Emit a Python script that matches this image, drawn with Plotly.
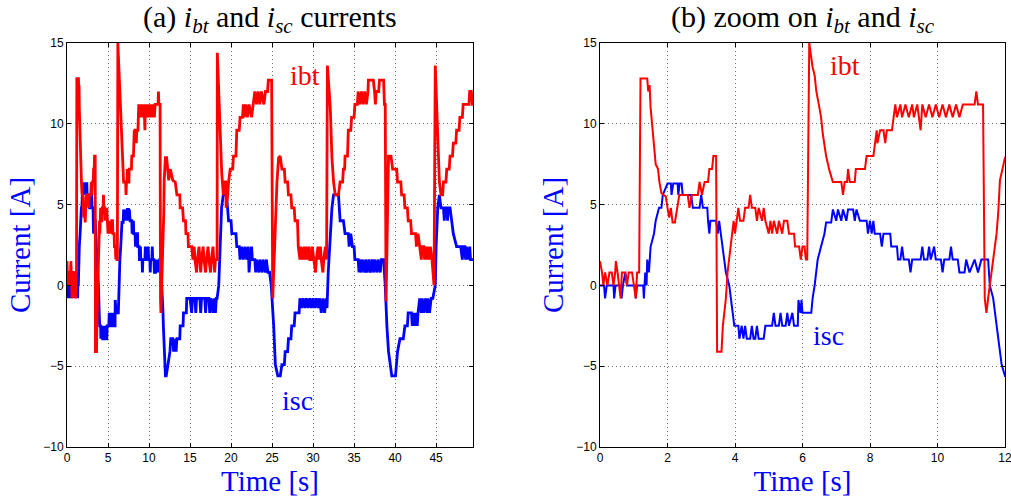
import plotly.graph_objects as go
from plotly.subplots import make_subplots

# ---------------- data (time [s], current [A]) ----------------
ibt_points = [
    (0, 1.5), (0.06, 0.8), (0.1, 0), (0.15, 0.8), (0.22, 0), (0.28, 0.8), (0.35, 0.8), (0.4, 0),
    (0.45, 0.8), (0.47, 1.5), (0.52, 0.8), (0.57, 0), (0.61, -0.8), (0.65, 0.8), (0.75, 0.8),
    (0.8, 0), (0.85, 0.8), (0.95, 0.8), (1.0, 0), (1.06, -0.8), (1.1, 0.8), (1.16, 0.8),
    (1.2, 12.8), (1.4, 12.8), (1.43, 12), (1.47, 12.4), (1.5, 11), (1.52, 10.5), (1.58, 9),
    (1.65, 7.5), (1.72, 7.2), (1.76, 6.4), (1.82, 5.7), (1.95, 5.5), (2.0, 4.8), (2.05, 4.2),
    (2.1, 4.8), (2.15, 3.9), (2.22, 3.9), (2.28, 4.8), (2.35, 5.6), (2.6, 5.6), (2.65, 4.8),
    (2.72, 5.6), (2.9, 5.6), (2.95, 6.4), (3.02, 5.6), (3.1, 6.4), (3.2, 6.4), (3.24, 7.2),
    (3.32, 7.2), (3.36, 8.0), (3.44, 8.0), (3.47, -4.1), (3.6, -4.1), (3.64, -2.5), (3.68, -1.7),
    (3.73, -0.8), (3.78, 0.8), (3.83, 1.6), (3.88, 2.4), (3.93, 3.2), (3.96, 4.0), (4.0, 3.2),
    (4.05, 4.0), (4.1, 4.8), (4.15, 4.0), (4.25, 4.0), (4.3, 4.8), (4.4, 4.8), (4.45, 5.6),
    (4.5, 4.8), (4.6, 4.8), (4.65, 4.0), (4.7, 4.8), (4.8, 4.0), (4.85, 4.8), (4.9, 4.0),
    (5.0, 3.2), (5.05, 4.0), (5.1, 3.2), (5.15, 4.0), (5.25, 3.2), (5.3, 4.0), (5.4, 3.2),
    (5.45, 4.0), (5.55, 4.0), (5.6, 3.2), (5.75, 3.2), (5.78, 2.4), (5.9, 2.4), (5.95, 1.6),
    (6.0, 2.4), (6.06, 2.4), (6.1, 1.6), (6.14, 1.6), (6.2, 15), (6.26, 14.2), (6.3, 13.5),
    (6.36, 13), (6.41, 12), (6.5, 11), (6.55, 10.4), (6.6, 9.4), (6.7, 8.0), (6.8, 7.1),
    (6.9, 6.4), (7.15, 6.4), (7.2, 5.6), (7.25, 6.4), (7.32, 6.4), (7.35, 7.2), (7.4, 6.4),
    (7.55, 6.4), (7.58, 7.2), (7.85, 7.2), (7.9, 8.0), (8.1, 8.0), (8.15, 8.8), (8.2, 9.6),
    (8.22, 8.8), (8.3, 9.6), (8.4, 9.6), (8.45, 8.8), (8.5, 9.6), (8.65, 9.6), (8.7, 10.4),
    (8.75, 11.2), (8.8, 10.4), (8.9, 11.2), (8.95, 10.4), (9.05, 11.2), (9.15, 10.4),
    (9.25, 11.2), (9.3, 10.4), (9.4, 11.2), (9.5, 9.6), (9.55, 11.2), (9.65, 10.4),
    (9.75, 11.2), (9.85, 10.4), (9.95, 11.2), (10.05, 10.4), (10.15, 11.2), (10.25, 10.4),
    (10.35, 11.2), (10.45, 10.4), (10.55, 11.2), (10.65, 10.4), (10.75, 11.2), (11.1, 11.2),
    (11.15, 12.0), (11.2, 11.2), (11.35, 11.2), (11.4, -0.8), (11.45, -1.7), (11.5, -0.8),
    (11.55, 0), (11.65, 1.6), (11.75, 3.2), (11.8, 4.5), (11.85, 6.5), (12.0, 7.9),
    (12.15, 7.9), (12.4, 6.5), (12.6, 7.2), (12.9, 6.5), (13.2, 6.4), (13.4, 5.6),
    (13.75, 5.6), (13.8, 4.8), (14.1, 4.8), (14.2, 4.0), (14.45, 4.0), (14.5, 3.2),
    (14.75, 3.2), (14.8, 2.4), (15.2, 2.4), (15.35, 1.6), (15.5, 2.4), (15.6, 1.6),
    (15.8, 0.8), (15.9, 1.6), (16.1, 2.4), (16.2, 1.6), (16.3, 0.8), (16.4, 1.6), (16.6, 2.4),
    (16.7, 1.6), (16.9, 0.8), (17.0, 1.6), (17.2, 2.4), (17.3, 1.6), (17.5, 0.8), (17.6, 1.6),
    (17.8, 2.4), (17.9, 1.6), (18.0, 0.8), (18.1, 1.6), (18.3, 1.6), (18.33, 14.4),
    (18.66, 9.6), (18.86, 7.0), (19.06, 5.6), (19.2, 6.4), (19.35, 6.4), (19.4, 4.8),
    (19.6, 5.6), (19.7, 6.4), (19.9, 7.2), (20.2, 7.2), (20.3, 8.0), (20.6, 8.0), (20.7, 9.6),
    (21.0, 9.6), (21.1, 10.4), (21.4, 10.4), (21.5, 11.2), (21.6, 10.4), (21.8, 11.2),
    (22.0, 10.4), (22.2, 11.2), (22.5, 10.4), (22.7, 11.2), (22.9, 12.0), (23.1, 11.2),
    (23.3, 12.0), (23.5, 11.2), (23.7, 12.0), (24.0, 11.2), (24.2, 12.0), (24.45, 12.0),
    (24.55, 12.7), (24.95, 12.7), (25.08, -0.8), (25.2, 0.8), (25.4, 4.0), (25.6, 6.4),
    (25.8, 7.9), (26.0, 8.0), (26.2, 7.2), (26.5, 7.2), (26.6, 6.4), (26.9, 6.4), (27.0, 5.6),
    (27.3, 5.6), (27.4, 4.8), (27.7, 4.8), (27.8, 4.0), (28.1, 4.0), (28.2, 2.4), (28.4, 1.6),
    (28.5, 2.4), (28.7, 1.6), (28.9, 2.4), (29.0, 1.6), (29.2, 2.4), (29.3, 1.6), (29.5, 2.4),
    (29.6, 1.6), (29.8, 1.6), (29.9, 2.4), (30.1, 1.6), (30.3, 0.8), (30.4, 1.6), (30.6, 2.4),
    (30.7, 1.6), (30.9, 2.4), (31.0, 1.6), (31.2, 0.8), (31.3, 1.6), (31.5, 2.4), (31.65, 1.6),
    (31.75, 13.6), (32.1, 11), (32.3, 7.9), (32.5, 6.4), (32.7, 5.6), (33.1, 5.6), (33.3, 6.4),
    (33.6, 6.4), (33.7, 7.2), (33.85, 7.2), (33.9, 8.0), (34.2, 8.0), (34.3, 9.6), (34.6, 9.6),
    (34.7, 10.4), (35.0, 10.4), (35.1, 11.2), (35.4, 11.2), (35.5, 12.0), (35.7, 11.2),
    (35.9, 12.0), (36.1, 11.2), (36.3, 12.0), (36.5, 11.2), (36.7, 12.0), (36.75, 12.7),
    (37.35, 12.7), (37.5, 12.0), (37.6, 11.2), (37.7, 12.0), (38.0, 12.0), (38.1, 12.7),
    (38.6, 12.7), (38.7, 11.2), (38.8, 11.2), (38.9, -1.0), (39.1, 4.0), (39.2, 8.0),
    (39.5, 8.0), (39.7, 7.2), (40.2, 7.2), (40.3, 6.4), (40.7, 6.4), (40.8, 5.6), (41.1, 5.6),
    (41.2, 4.8), (41.5, 4.8), (41.6, 4.0), (41.9, 4.0), (42.0, 3.2), (42.5, 3.2), (42.6, 2.4),
    (42.8, 3.2), (43.0, 2.4), (43.2, 1.6), (43.3, 2.4), (43.5, 2.4), (43.6, 1.6), (43.7, 2.4),
    (43.9, 1.6), (44.0, 2.4), (44.2, 1.6), (44.3, 2.4), (44.5, 1.6), (44.75, 0),
    (44.9, 13.6), (45.2, 9.6), (45.4, 6.4), (45.6, 5.6), (45.8, 5.6), (45.9, 6.4), (46.2, 6.4),
    (46.3, 7.2), (46.6, 7.2), (46.7, 8.0), (47.0, 8.0), (47.1, 8.8), (47.4, 8.8), (47.5, 9.6),
    (47.8, 9.6), (47.9, 10.4), (48.2, 10.4), (48.3, 11.2), (49.0, 11.2), (49.1, 12.0),
    (49.3, 12.0), (49.4, 11.2), (49.5, 11.2),
]

isc_points = [
    (0, 0), (0.12, 0), (0.15, -0.8), (0.2, 0), (0.4, 0), (0.42, -0.8), (0.46, 0), (0.62, 0),
    (0.64, -0.8), (0.68, 0), (0.75, 0.8), (0.8, 0), (1.04, 0), (1.06, -0.8), (1.1, 0),
    (1.28, 0), (1.3, -0.8), (1.34, 0.8), (1.38, 0), (1.4, 1.6), (1.45, 0.8), (1.5, 2.4),
    (1.6, 3.2), (1.65, 4.0), (1.75, 4.8), (1.82, 4.8), (1.86, 5.6), (2.0, 6.3), (2.1, 6.3),
    (2.12, 5.6), (2.17, 6.3), (2.3, 6.3), (2.32, 5.6), (2.36, 6.3), (2.42, 6.3), (2.45, 5.6),
    (2.7, 5.6), (2.75, 4.8), (2.95, 4.8), (3.0, 5.6), (3.05, 4.8), (3.18, 4.8), (3.2, 4.0),
    (3.24, 3.2), (3.27, 4.0), (3.44, 4.0), (3.49, 3.2), (3.53, 4.0), (3.58, 3.2), (3.63, 2.4),
    (3.68, 1.6), (3.73, 0.8), (3.83, 0), (3.88, -0.8), (3.93, -1.7), (3.98, -2.5), (4.1, -2.5),
    (4.13, -3.3), (4.2, -2.5), (4.25, -3.3), (4.3, -2.5), (4.35, -3.3), (4.45, -3.3),
    (4.5, -2.5), (4.55, -3.3), (4.6, -3.3), (4.65, -2.5), (4.7, -3.3), (4.85, -3.3),
    (4.9, -2.5), (5.1, -2.5), (5.15, -1.7), (5.2, -2.5), (5.3, -2.5), (5.35, -1.7),
    (5.4, -2.5), (5.5, -2.5), (5.55, -1.7), (5.6, -2.5), (5.7, -1.7), (5.75, -2.5),
    (5.86, -2.5), (5.88, -0.9), (5.94, -1.7), (5.97, -0.9), (6.0, -1.7), (6.26, -1.7),
    (6.3, -0.8), (6.36, 0), (6.4, 0.8), (6.45, 1.6), (6.55, 2.4), (6.65, 3.2), (6.7, 3.9),
    (6.85, 3.9), (6.9, 4.7), (7.0, 4.0), (7.05, 4.7), (7.15, 4.0), (7.2, 4.7), (7.3, 4.0),
    (7.35, 4.7), (7.5, 4.7), (7.55, 4.0), (7.6, 4.7), (7.7, 4.0), (7.9, 4.0), (7.94, 3.2),
    (8.0, 4.0), (8.05, 3.2), (8.1, 4.0), (8.14, 3.2), (8.3, 3.2), (8.35, 2.4), (8.4, 3.2),
    (8.6, 3.2), (8.63, 2.4), (8.8, 2.4), (8.83, 1.6), (8.9, 1.6), (8.95, 2.4), (9.0, 1.6),
    (9.15, 1.6), (9.2, 0.8), (9.25, 1.6), (9.5, 1.6), (9.55, 2.4), (9.6, 1.6), (9.7, 1.6),
    (9.75, 2.4), (9.8, 1.6), (9.9, 2.4), (9.95, 1.6), (10.1, 1.6), (10.15, 0.8), (10.2, 1.6),
    (10.35, 1.6), (10.4, 2.4), (10.45, 1.6), (10.6, 1.6), (10.65, 0.8), (10.8, 0.8),
    (10.85, 1.6), (10.95, 0.8), (11.1, 1.6), (11.2, 0.8), (11.3, 1.6), (11.5, 1.6),
    (11.55, 0), (11.65, -0.8), (11.7, -1.6), (11.75, -2.5), (11.8, -3.3), (11.85, -4.1),
    (11.9, -4.9), (12.0, -5.6), (12.1, -5.6), (12.3, -4.9), (12.55, -4.1), (12.65, -3.3),
    (12.9, -3.3), (13.0, -4.1), (13.1, -3.3), (13.3, -4.1), (13.4, -3.3), (13.75, -3.3),
    (13.8, -2.5), (14.15, -2.5), (14.2, -1.7), (14.55, -1.7), (14.6, -0.8), (15.0, -0.8),
    (15.2, -1.7), (15.3, -0.8), (15.6, -0.8), (15.7, -1.7), (15.8, -0.8), (16.2, -0.8),
    (16.3, -1.7), (16.4, -0.8), (16.8, -0.8), (16.9, -1.7), (17.0, -0.8), (17.3, -0.8),
    (17.4, -1.7), (17.5, -0.8), (17.8, -1.7), (17.9, -0.8), (18.1, -1.7), (18.2, -0.8),
    (18.3, -0.8), (18.5, 0), (18.7, 2.4), (18.85, 4.8), (19.05, 5.6), (19.45, 5.6),
    (19.7, 4.0), (20.0, 4.0), (20.1, 3.2), (20.6, 3.2), (20.7, 2.4), (21.0, 2.4), (21.1, 1.6),
    (21.3, 2.4), (21.5, 1.6), (21.7, 2.4), (21.9, 1.6), (22.1, 2.4), (22.2, 0.8), (22.3, 1.6),
    (22.5, 2.4), (22.6, 1.6), (22.9, 1.6), (23.0, 0.8), (23.1, 1.6), (23.4, 0.8), (23.5, 1.6),
    (23.8, 0.8), (23.9, 1.6), (24.2, 0.8), (24.3, 1.6), (24.5, 0.8), (24.7, 0.8), (24.9, 0),
    (25.2, -2.5), (25.4, -4.9), (25.7, -5.6), (26.0, -5.6), (26.2, -4.9), (26.5, -4.9),
    (26.6, -4.1), (26.9, -4.1), (27.0, -3.3), (27.3, -3.3), (27.4, -2.5), (27.7, -2.5),
    (27.8, -1.7), (28.3, -1.7), (28.4, -0.8), (28.6, -1.4), (28.8, -0.8), (29.0, -1.4),
    (29.2, -0.8), (29.4, -1.4), (29.6, -0.8), (29.8, -1.4), (30.0, -0.8), (30.2, -1.4),
    (30.4, -0.8), (30.6, -1.4), (30.8, -0.8), (31.0, -1.7), (31.2, -0.8), (31.4, -1.7),
    (31.6, -0.8), (31.7, -1.4), (31.85, 0.8), (32.1, 3.2), (32.3, 4.8), (32.5, 5.6),
    (33.1, 5.6), (33.3, 4.0), (33.7, 4.0), (33.9, 3.2), (34.3, 3.2), (34.4, 2.4), (34.6, 3.2),
    (34.8, 2.4), (35.0, 2.4), (35.1, 1.6), (35.5, 1.6), (35.6, 0.8), (35.7, 1.6), (35.9, 0.8),
    (36.0, 1.6), (36.3, 0.8), (36.4, 1.6), (36.6, 0.8), (36.8, 1.6), (37.0, 0.8), (37.2, 1.6),
    (37.4, 0.8), (37.5, 1.6), (37.8, 0.8), (37.9, 1.6), (38.2, 0.8), (38.3, 1.6), (38.6, 1.6),
    (38.8, 0), (39.0, -2.5), (39.2, -4.1), (39.6, -5.6), (40.05, -5.6), (40.3, -4.1),
    (40.6, -3.3), (41.0, -3.3), (41.2, -2.5), (41.5, -2.5), (41.6, -1.7), (42.0, -1.7),
    (42.1, -2.5), (42.2, -1.7), (42.4, -2.5), (42.5, -1.7), (42.7, -2.5), (42.8, -1.7),
    (43.0, -0.8), (43.2, -1.7), (43.3, -0.8), (43.5, -1.7), (43.7, -0.8), (43.9, -1.7),
    (44.0, -0.8), (44.2, -1.7), (44.4, -0.8), (44.6, -0.8), (44.9, 0), (45.0, 2.4),
    (45.2, 4.8), (45.4, 5.6), (45.6, 4.8), (45.9, 4.8), (46.0, 4.0), (46.1, 4.8), (46.3, 4.8),
    (46.4, 4.0), (46.5, 4.8), (46.7, 4.8), (46.9, 4.0), (47.1, 3.2), (47.5, 2.4), (48.0, 2.4),
    (48.2, 1.6), (48.3, 2.4), (48.5, 2.4), (48.6, 1.6), (48.7, 2.4), (48.9, 1.6), (49.1, 2.4),
    (49.2, 1.6), (49.5, 1.6),
]

t_ibt = [p[0] for p in ibt_points]
ibt = [p[1] for p in ibt_points]
t_isc = [p[0] for p in isc_points]
isc = [p[1] for p in isc_points]

y_ticks = [-10, -5, 0, 5, 10, 15]
x_ticks_a = [0, 5, 10, 15, 20, 25, 30, 35, 40, 45]
x_ticks_b = [0, 2, 4, 6, 8, 10, 12]

RED = "#ff0000"
BLUE = "#0000ff"
SERIF = "Liberation Serif, DejaVu Serif, serif"
SANS = "Liberation Sans, Arial, sans-serif"

fig = make_subplots(rows=1, cols=2)

# (a) full record
fig.add_trace(go.Scatter(x=t_isc, y=isc, mode="lines", line=dict(color=BLUE, width=2.8),
                         showlegend=False), row=1, col=1)
fig.add_trace(go.Scatter(x=t_ibt, y=ibt, mode="lines", line=dict(color=RED, width=2.8),
                         showlegend=False), row=1, col=1)
# (b) zoom
fig.add_trace(go.Scatter(x=t_isc, y=isc, mode="lines", line=dict(color=BLUE, width=2),
                         showlegend=False), row=1, col=2)
fig.add_trace(go.Scatter(x=t_ibt, y=ibt, mode="lines", line=dict(color=RED, width=2),
                         showlegend=False), row=1, col=2)

W, H = 1011, 501
xa = [67 / W, 473 / W]
xb = [600 / W, 1005 / W]
yd = [1 - 447 / H, 1 - 43 / H]

axis_common = dict(
    showline=True, linecolor="black", linewidth=1, mirror="ticks",
    ticks="inside", ticklen=4, tickcolor="black",
    showgrid=True, gridcolor="#6e6e6e", gridwidth=1, griddash="1px,3px",
    zeroline=False, tickfont=dict(family=SANS, size=12, color="black"),
    ticklabeloverflow="allow", automargin=False,
)

fig.update_xaxes(**axis_common)
fig.update_yaxes(**axis_common)

lab_font = dict(family=SERIF, size=29, color=BLUE)
fig.update_layout(
    width=W, height=H,
    margin=dict(l=0, r=0, t=0, b=0),
    paper_bgcolor="white", plot_bgcolor="white",
    xaxis=dict(domain=xa, range=[0, 49.5], tickvals=x_ticks_a,
               title=dict(text="Time [s]", font=lab_font, standoff=4)),
    xaxis2=dict(domain=xb, range=[0, 12.0001], tickvals=x_ticks_b,
                title=dict(text="Time [s]", font=lab_font, standoff=4)),
    yaxis=dict(domain=yd, range=[-10, 15], tickvals=y_ticks,
               title=dict(text="Current [A]", font=lab_font, standoff=4)),
    yaxis2=dict(domain=yd, range=[-10, 15], tickvals=y_ticks,
                title=dict(text="Current [A]", font=lab_font, standoff=4)),
)

ann = [
    dict(text="(a) <i>i</i><sub><i>bt</i></sub> and <i>i</i><sub><i>sc</i></sub> currents",
         xref="paper", yref="paper", x=(xa[0] + xa[1]) / 2, y=1 - 19 / H,
         font=dict(family=SERIF, size=30, color="black")),
    dict(text="(b) zoom on <i>i</i><sub><i>bt</i></sub> and <i>i</i><sub><i>sc</i></sub>",
         xref="paper", yref="paper", x=(xb[0] + xb[1]) / 2, y=1 - 19 / H,
         font=dict(family=SERIF, size=30, color="black")),
    dict(text="ibt", xref="x", yref="y", x=29.0, y=13.0,
         font=dict(family=SERIF, size=28, color=RED)),
    dict(text="isc", xref="x", yref="y", x=28.05, y=-7.15,
         font=dict(family=SERIF, size=28, color=BLUE)),
    dict(text="ibt", xref="x2", yref="y2", x=7.26, y=13.6,
         font=dict(family=SERIF, size=28, color=RED)),
    dict(text="isc", xref="x2", yref="y2", x=6.78, y=-3.13,
         font=dict(family=SERIF, size=28, color=BLUE)),
]
for a in ann:
    a.update(showarrow=False, xanchor="center", yanchor="middle")
fig.update_layout(annotations=ann)

fig.write_html("out.html")
